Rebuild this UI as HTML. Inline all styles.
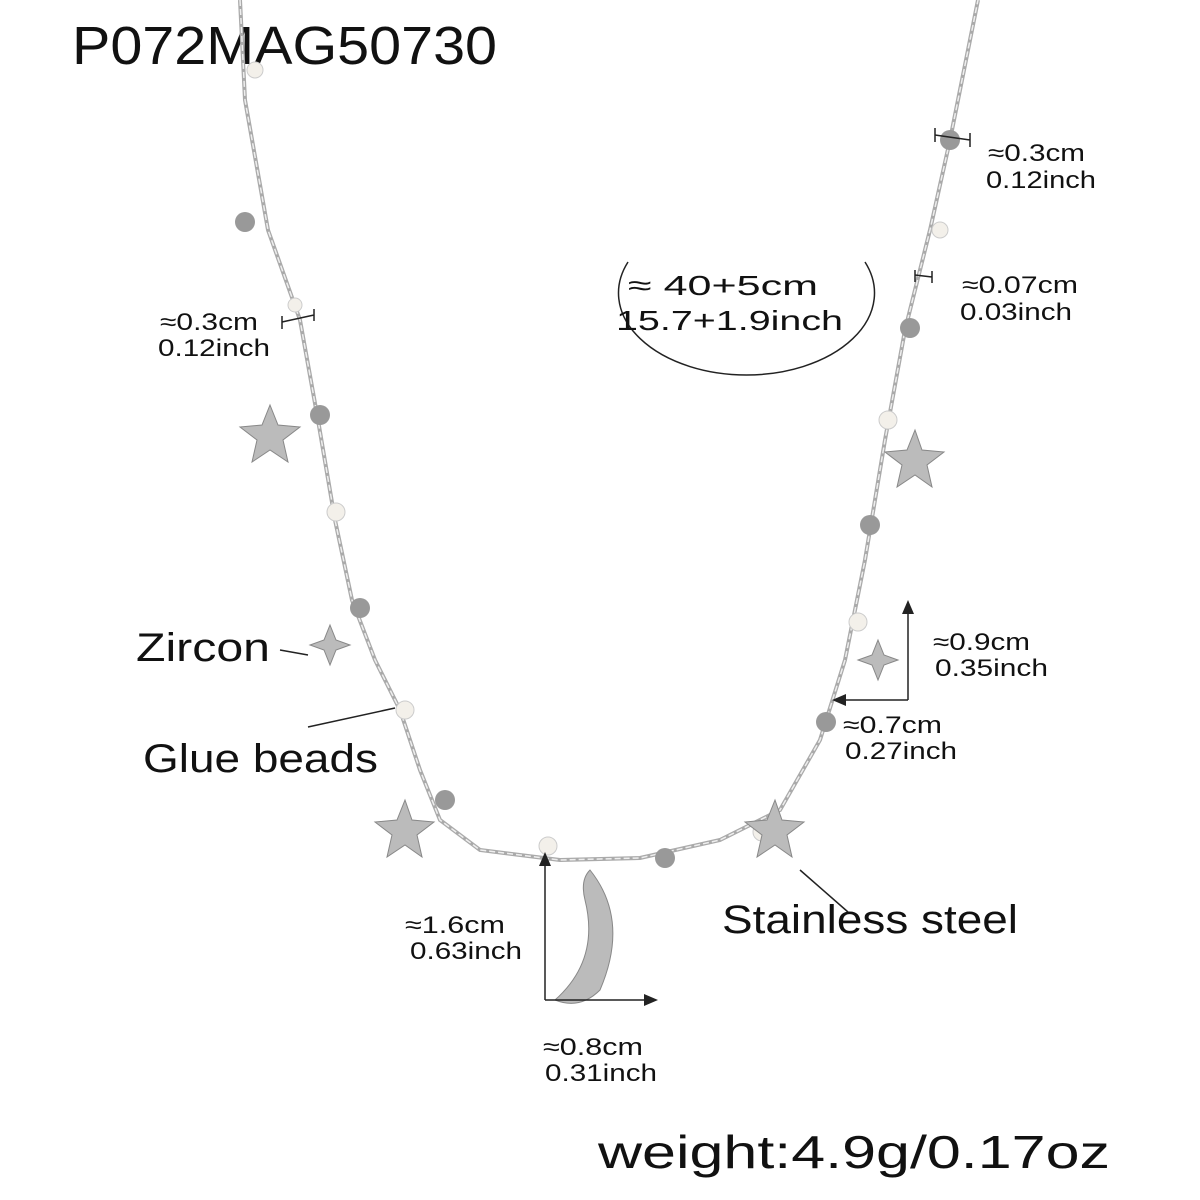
<!DOCTYPE html>
<html><head><meta charset="utf-8"><style>
body{margin:0;background:#fff}
svg{display:block}
text{font-family:"Liberation Sans",sans-serif;fill:#111}
</style></head><body>
<svg width="1200" height="1200" viewBox="0 0 1200 1200">
<text x="72" y="64" font-size="54" textLength="425" lengthAdjust="spacingAndGlyphs">P072MAG50730</text>
<path d="M240 0 L245 100 L268 230 L300 320 L318 420 L335 520 L352 600 L375 660 L400 710 L420 770 L440 820 L480 850 L560 860 L640 858 L720 840 L780 810 L820 740 L845 660 L865 560 L885 440 L905 330 L930 230 L950 140 L978 0" fill="none" stroke="#aaa" stroke-width="4"/>
<path d="M240 0 L245 100 L268 230 L300 320 L318 420 L335 520 L352 600 L375 660 L400 710 L420 770 L440 820 L480 850 L560 860 L640 858 L720 840 L780 810 L820 740 L845 660 L865 560 L885 440 L905 330 L930 230 L950 140 L978 0" fill="none" stroke="#eee" stroke-width="1.5" stroke-dasharray="6 3"/>
<g fill="#999">
<circle cx="950" cy="140" r="10"/><circle cx="910" cy="328" r="10"/><circle cx="870" cy="525" r="10"/><circle cx="826" cy="722" r="10"/><circle cx="665" cy="858" r="10"/><circle cx="445" cy="800" r="10"/><circle cx="360" cy="608" r="10"/><circle cx="320" cy="415" r="10"/><circle cx="245" cy="222" r="10"/>
</g>
<g fill="#f3f0ea" stroke="#ccc">
<circle cx="940" cy="230" r="8"/><circle cx="888" cy="420" r="9"/><circle cx="858" cy="622" r="9"/><circle cx="762" cy="832" r="9"/><circle cx="548" cy="846" r="9"/><circle cx="405" cy="710" r="9"/><circle cx="336" cy="512" r="9"/><circle cx="295" cy="305" r="7"/><circle cx="255" cy="70" r="8"/>
</g>
<g fill="#bbb" stroke="#888">
<polygon points="270,405 278,425 300,427 283,440 288,462 270,450 252,462 257,440 240,427 262,425"/>
<polygon points="915,430 922,450 944,452 927,465 932,487 915,475 897,487 902,465 885,452 907,450"/>
<polygon points="405,800 412,820 434,822 417,835 422,857 405,845 387,857 392,835 375,822 397,820"/>
<polygon points="775,800 782,820 804,822 787,835 792,857 775,845 757,857 762,835 745,822 767,820"/>
<polygon points="330,625 336,640 350,645 336,650 330,665 324,650 310,645 324,640"/>
<polygon points="878,640 884,655 898,660 884,665 878,680 872,665 858,660 872,655"/>
<path d="M590 870 Q630 920 600 990 Q580 1010 555 1000 Q600 960 585 900 Q580 880 590 870Z"/>
</g>
<path d="M628 262 A128 82 0 1 0 865 262" fill="none" stroke="#222" stroke-width="1.5"/>
<text x="628" y="295" font-size="28" textLength="190" lengthAdjust="spacingAndGlyphs">≈ 40+5cm</text>
<text x="616" y="330" font-size="28" textLength="227" lengthAdjust="spacingAndGlyphs">15.7+1.9inch</text>
<g font-size="24" lengthAdjust="spacingAndGlyphs">
<text x="988" y="161" textLength="97" lengthAdjust="spacingAndGlyphs">≈0.3cm</text><text x="986" y="188" textLength="110" lengthAdjust="spacingAndGlyphs">0.12inch</text>
<text x="962" y="293" textLength="116" lengthAdjust="spacingAndGlyphs">≈0.07cm</text><text x="960" y="320" textLength="112" lengthAdjust="spacingAndGlyphs">0.03inch</text>
<text x="160" y="330" textLength="98" lengthAdjust="spacingAndGlyphs">≈0.3cm</text><text x="158" y="356" textLength="112" lengthAdjust="spacingAndGlyphs">0.12inch</text>
<text x="933" y="650" textLength="97" lengthAdjust="spacingAndGlyphs">≈0.9cm</text><text x="935" y="676" textLength="113" lengthAdjust="spacingAndGlyphs">0.35inch</text>
<text x="843" y="733" textLength="99" lengthAdjust="spacingAndGlyphs">≈0.7cm</text><text x="845" y="759" textLength="112" lengthAdjust="spacingAndGlyphs">0.27inch</text>
<text x="405" y="933" textLength="100" lengthAdjust="spacingAndGlyphs">≈1.6cm</text><text x="410" y="959" textLength="112" lengthAdjust="spacingAndGlyphs">0.63inch</text>
<text x="543" y="1055" textLength="100" lengthAdjust="spacingAndGlyphs">≈0.8cm</text><text x="545" y="1081" textLength="112" lengthAdjust="spacingAndGlyphs">0.31inch</text>
</g>
<g stroke="#222" stroke-width="1.5" fill="none">
<path d="M935 135 L970 140 M935 128 L935 142 M970 133 L970 147"/>
<path d="M915 275 L932 277 M915 270 L915 282 M932 271 L932 283"/>
<path d="M282 322 L314 315 M282 316 L282 329 M314 309 L314 321"/>
<path d="M908 700 L908 608 M838 700 L908 700"/>
<path d="M545 1000 L545 860 M545 1000 L650 1000"/>
<path d="M280 650 L308 655 M308 727 L395 708 M848 912 L800 870"/>
</g>
<g fill="#222">
<polygon points="908,600 902,614 914,614"/><polygon points="832,700 846,694 846,706"/>
<polygon points="545,852 539,866 551,866"/><polygon points="658,1000 644,994 644,1006"/>
</g>
<text x="136" y="661" font-size="40" textLength="134" lengthAdjust="spacingAndGlyphs">Zircon</text>
<text x="143" y="772" font-size="40" textLength="235" lengthAdjust="spacingAndGlyphs">Glue beads</text>
<text x="722" y="933" font-size="40" textLength="296" lengthAdjust="spacingAndGlyphs">Stainless steel</text>
<text x="598" y="1168" font-size="46" textLength="512" lengthAdjust="spacingAndGlyphs">weight:4.9g/0.17oz</text>
</svg>
</body></html>
